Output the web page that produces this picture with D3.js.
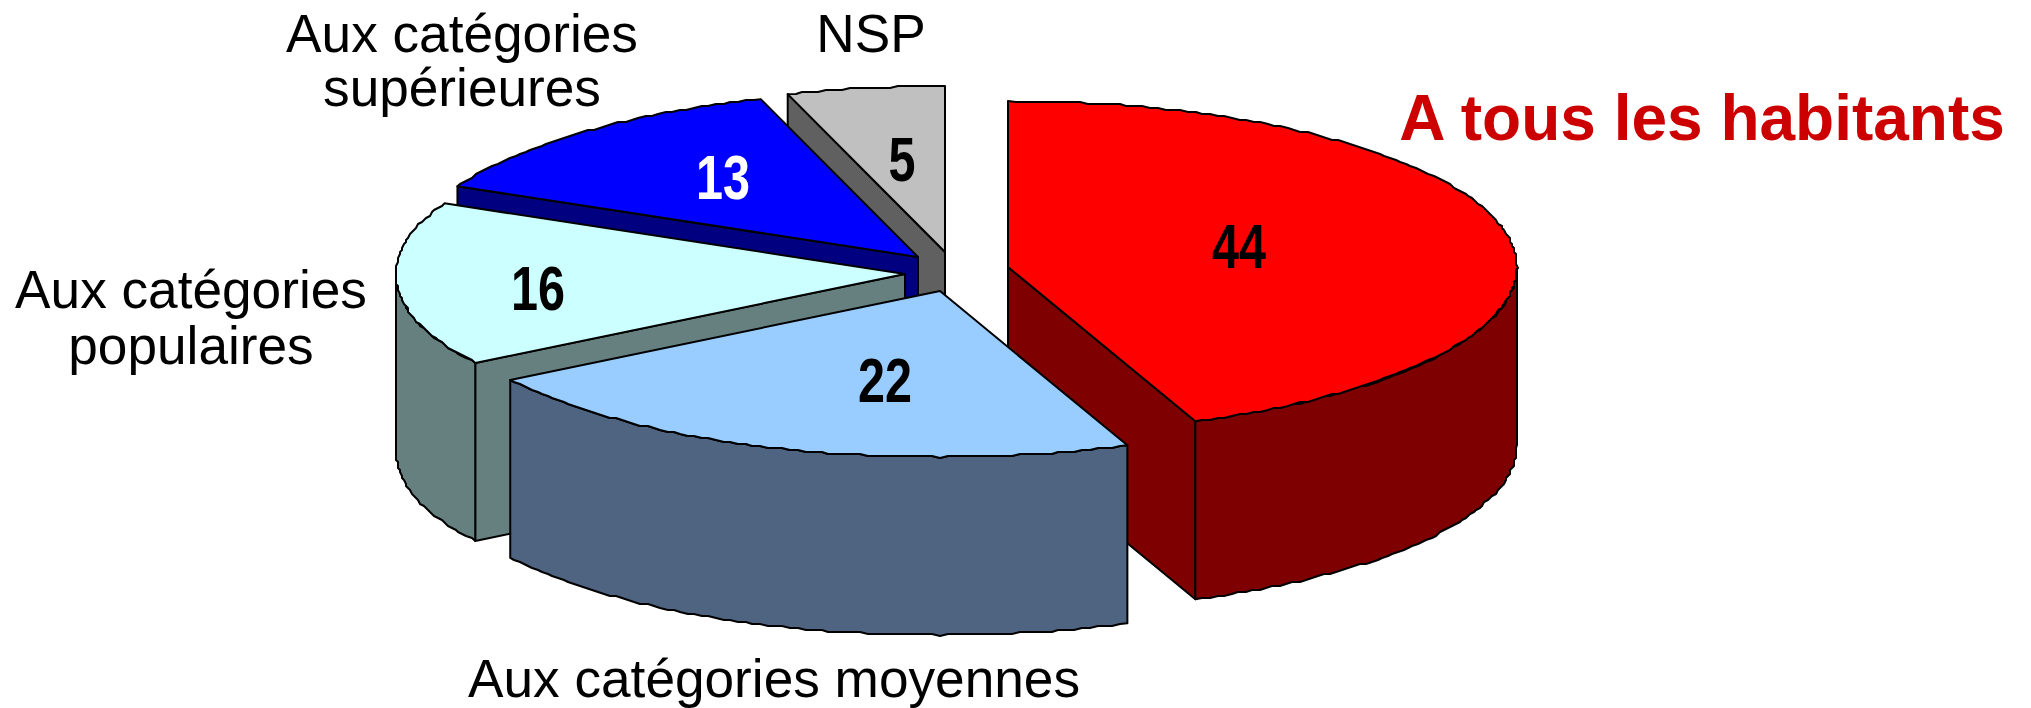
<!DOCTYPE html>
<html lang="fr">
<head>
<meta charset="utf-8">
<script src="https://cdn.jsdelivr.net/npm/d3@7"></script>
<style>
  html, body { margin: 0; padding: 0; background: #fff; }
  svg { display: block; }
</style>
</head>
<body>
<svg id="chart" width="2031" height="708"></svg>
<script>
// --- data ---
const categories = ["A tous les habitants", "Aux catégories moyennes", "Aux catégories populaires", "Aux catégories supérieures", "NSP"];
const values = [44, 22, 16, 13, 5];
const topColors = ["#ff0000", "#99ccff", "#ccffff", "#0000ff", "#c0c0c0"];
const wallColors = ["#7f0000", "#4f6480", "#668080", "#000080", "#606060"];
const valueColors = ["#000", "#000", "#000", "#fff", "#000"];

// --- layout ---
const rx = 509, ry = 166, depth = 178;
const centers = [[1008, 267], [940, 291], [905, 274], [918, 257], [945, 252]];
const valueAnchors = [[1239, 268], [885, 402], [538, 310], [723, 199], [902, 181]];
const labelLines = [
  { lines: ["A tous les habitants"], x: 1702, y: [140], size: 64, weight: 700, fill: "#cc0000" },
  { lines: ["Aux catégories moyennes"], x: 774, y: [697], size: 53.2, weight: 400, fill: "#000" },
  { lines: ["Aux catégories", "populaires"], x: 191, y: [308, 364], size: 53.2, weight: 400, fill: "#000" },
  { lines: ["Aux catégories", "supérieures"], x: 462, y: [52, 106], size: 53.2, weight: 400, fill: "#000" },
  { lines: ["NSP"], x: 871, y: [52], size: 53.2, weight: 400, fill: "#000" }
];
const drawOrder = [4, 3, 2, 0, 1];
const FONT = '"Liberation Sans", Arial, sans-serif';

const svg = d3.select("#chart");
const arcs = d3.pie().sort(null).value(d => d).startAngle(0).endAngle(2 * Math.PI)(values);

const grid = 2;
const snap = v => Math.round(v / grid) * grid;

function rim(c, a0, a1, dz) {
  const n = Math.max(2, Math.ceil(Math.abs(a1 - a0) / (Math.PI / 200)));
  return d3.range(n + 1).map(i => {
    const a = a0 + (a1 - a0) * i / n;
    const end = i === 0 || i === n;
    const px = c[0] + rx * Math.sin(a), py = c[1] - ry * Math.cos(a) + dz;
    return end ? [px, py] : [snap(px), snap(py)];
  });
}
const line = d3.line();
const closed = pts => line(pts) + "Z";

drawOrder.forEach(i => {
  const d = arcs[i], c = centers[i];
  const g = svg.append("g").attr("stroke", "#000").attr("stroke-width", 2).attr("stroke-linejoin", "round");

  // cut faces
  [d.startAngle, d.endAngle].forEach((a, k) => {
    const s = Math.sin(a);
    const visible = (k === 0 && s < -1e-6) || (k === 1 && s > 1e-6);
    if (!visible) return;
    const p = [c[0] + rx * s, c[1] - ry * Math.cos(a)];
    g.append("path")
      .attr("d", closed([c, p, [p[0], p[1] + depth], [c[0], c[1] + depth]]))
      .attr("fill", wallColors[i]);
  });

  // outer wall (only the front half of the rim faces the viewer)
  const lo = Math.max(d.startAngle, Math.PI / 2), hi = Math.min(d.endAngle, 3 * Math.PI / 2);
  if (hi > lo) {
    g.append("path")
      .attr("d", closed(rim(c, lo, hi, 0).concat(rim(c, hi, lo, depth))))
      .attr("fill", wallColors[i]);
  }

  // top face
  g.append("path")
    .attr("d", closed([c].concat(rim(c, d.startAngle, d.endAngle, 0))))
    .attr("fill", topColors[i]);
});

// value labels (condensed bold)
svg.append("g").selectAll("text").data(values).join("text")
  .attr("transform", (d, i) => `translate(${valueAnchors[i][0]},${valueAnchors[i][1]}) scale(0.77,1)`)
  .attr("text-anchor", "middle")
  .attr("font-family", FONT)
  .attr("font-weight", 700)
  .attr("font-size", 63)
  .attr("fill", (d, i) => valueColors[i])
  .text(d => d);

// category labels
const lab = svg.append("g").selectAll("text").data(labelLines).join("text")
  .attr("text-anchor", "middle")
  .attr("font-family", FONT)
  .attr("font-size", d => d.size)
  .attr("font-weight", d => d.weight)
  .attr("fill", d => d.fill);
lab.selectAll("tspan").data(d => d.lines.map((t, j) => ({ t, x: d.x, y: d.y[j] }))).join("tspan")
  .attr("x", d => d.x).attr("y", d => d.y).text(d => d.t);
</script>
</body>
</html>
